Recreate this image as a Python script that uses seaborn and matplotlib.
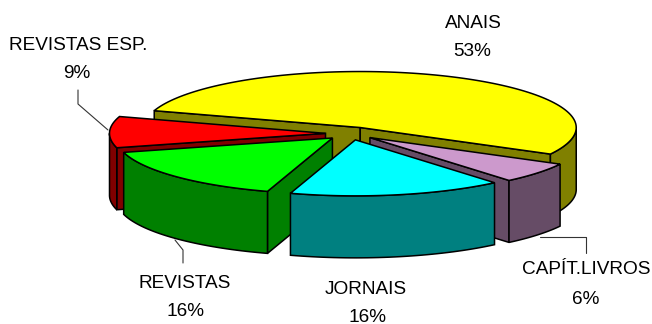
import numpy as np
import matplotlib
matplotlib.use("Agg")
import matplotlib.pyplot as plt
from matplotlib.patches import Polygon
import seaborn as sns

# Slice shares in clockwise order, starting from the largest one
categories = ["ANAIS", "CAPÍT.LIVROS", "JORNAIS", "REVISTAS", "REVISTAS ESP."]
shares = [53, 6, 16, 16, 9]
top_colors = ["#FFFF00", "#CC99CC", "#00FFFF", "#00FF00", "#FF0000"]
side_colors = ["#808000", "#664C66", "#008080", "#008000", "#800000"]

# Label centres for name and percentage, in pixels
name_pos = [(473, 24), (586, 270), (366, 290), (185, 283), (78, 45)]
pct_pos = [(472, 52), (586, 299), (367, 317), (186, 311), (77, 73)]

# Leader lines, in pixels
leaders = [
    [(78, 90), (78, 104), (108, 130)],
    [(183, 263), (183, 250), (175, 240)],
    [(540, 237), (586, 237), (586, 253)],
]

# Geometry of the tilted, exploded pie
CENTER = (350.5, 133.5)
RX, RY = 216.0, 56.0
DEPTH = 62.0
EXPLODE = 25.0
START = 197.5
# Painter's order: back slice first, front slices last
DRAW_ORDER = [0, 4, 3, 1, 2]

sns.set_theme(style="white")
plt.rcParams["font.family"] = ["Liberation Sans", "DejaVu Sans"]

fig, ax = plt.subplots(figsize=(6.52, 3.24), dpi=100)
fig.subplots_adjust(0, 0, 1, 1)
ax.set_xlim(0, 652)
ax.set_ylim(324, 0)
ax.axis("off")


def rim(apex, deg):
    a = np.radians(deg)
    return np.column_stack([apex[0] + RX * np.cos(a), apex[1] + RY * np.sin(a)])


def add_poly(pts, color, z):
    ax.add_patch(Polygon(pts, closed=True, facecolor=color, edgecolor="black",
                         linewidth=1.1, joinstyle="miter", zorder=z))


def cut_face(apex, deg, color, z):
    outer = rim(apex, np.array([deg]))[0]
    add_poly([apex, outer, (outer[0], outer[1] + DEPTH),
              (apex[0], apex[1] + DEPTH)], color, z)


sweeps = 360.0 * np.array(shares) / sum(shares)
starts = START + np.concatenate([[0], np.cumsum(sweeps)[:-1]])
ends = starts + sweeps

for order, i in enumerate(DRAW_ORDER):
    t0, t1 = starts[i], ends[i]
    mid = np.radians((t0 + t1) / 2)
    apex = (CENTER[0] + EXPLODE * np.cos(mid),
            CENTER[1] + EXPLODE * RY / RX * np.sin(mid))
    z = 2 + order * 3

    # Cut faces that turn toward the viewer
    if -np.cos(np.radians(t0)) > 0:
        cut_face(apex, t0, side_colors[i], z)
    if np.cos(np.radians(t1)) > 0:
        cut_face(apex, t1, side_colors[i], z)

    # Outer wall: only the front half of the rim is visible
    for k in range(0, 2):
        lo, hi = max(t0, 360 * k), min(t1, 360 * k + 180)
        if hi > lo:
            arc = rim(apex, np.linspace(lo, hi, 40))
            lower = arc[::-1] + np.array([0, DEPTH])
            add_poly(np.vstack([arc, lower]), side_colors[i], z + 1)

    # Top surface
    top = rim(apex, np.linspace(t0, t1, 120))
    add_poly(np.vstack([[apex], top]), top_colors[i], z + 2)

    ax.text(*name_pos[i], categories[i], ha="center", va="center",
            fontsize=13.7, color="black", zorder=50)
    ax.text(*pct_pos[i], f"{shares[i]}%", ha="center", va="center",
            fontsize=13.7, color="black", zorder=50)

for line in leaders:
    xs, ys = zip(*line)
    ax.plot(xs, ys, color="#333333", lw=0.8, zorder=40)

fig.savefig("out.png", dpi=100, facecolor="white")
